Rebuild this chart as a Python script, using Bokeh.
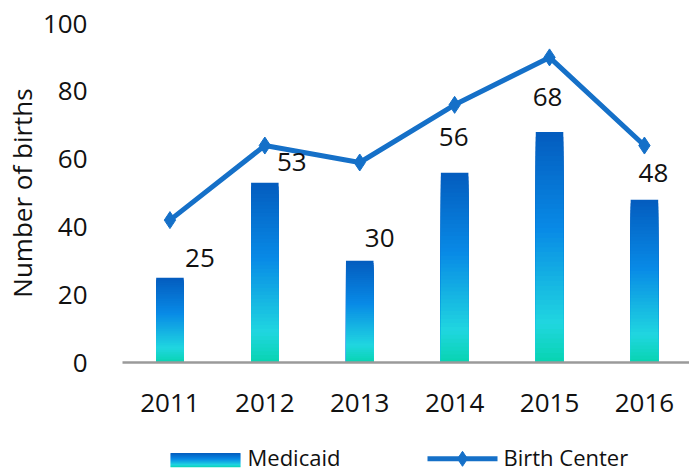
from bokeh.plotting import figure
from bokeh.models import Range1d, FixedTicker, ColumnDataSource
from bokeh.layouts import column
from bokeh.core.properties import value
from bokeh.embed import file_html
from bokeh.resources import INLINE

# ---- data ----
years = ["2011", "2012", "2013", "2014", "2015", "2016"]
medicaid = [25, 53, 30, 56, 68, 48]
birth_center = [42, 64, 59, 76, 90, 64]
y_ticks = [0, 20, 40, 60, 80, 100]

# ---- styles ----
FONT = "Open Sans"
LINE_COLOR = "#1570C8"
AXIS_GRAY = "#9A9A9A"
STOPS = [(0.0, (8, 212, 176)), (0.17, (32, 214, 224)), (0.58, (8, 138, 230)), (1.0, (4, 92, 190))]
label_dx = [30, 27, 20, -1, -2, 9]
label_dy = [-20, -21, -23, -36, -35, -27]


def grad(t):
    for (t0, c0), (t1, c1) in zip(STOPS[:-1], STOPS[1:]):
        if t <= t1:
            f = (t - t0) / (t1 - t0) if t1 > t0 else 0
            c = [round(a + (b - a) * f) for a, b in zip(c0, c1)]
            return "#%02x%02x%02x" % tuple(c)
    return "#%02x%02x%02x" % STOPS[-1][1]


W = 689
H_MAIN = 429
H_LEG = 43
FRAME_LEFT = 122
x = list(range(len(years)))

p = figure(width=W, height=H_MAIN, output_backend="svg", toolbar_location=None,
           x_range=Range1d(-0.5, 5.475), y_range=Range1d(0, 100),
           min_border_left=FRAME_LEFT, min_border_right=0, min_border_top=23, min_border_bottom=67)
p.outline_line_color = None
p.xgrid.visible = False
p.ygrid.visible = False

N = 48
xs, tops, cols = [], [], []
for k in range(N, 0, -1):
    for i, v in enumerate(medicaid):
        xs.append(x[i])
        tops.append(v * k / N)
        cols.append(grad((k - 0.5) / N))
p.vbar(x=xs, top=tops, bottom=0, width=0.29, fill_color=cols, line_color=None)

p.line(x, birth_center, line_color=LINE_COLOR, line_width=5)
p.scatter(x, birth_center, marker="diamond", size=17, fill_color=LINE_COLOR, line_color=LINE_COLOR)

src = ColumnDataSource(dict(x=x, y=medicaid, t=[str(v) for v in medicaid], dx=label_dx, dy=label_dy))
p.text(x="x", y="y", text="t", x_offset="dx", y_offset="dy", source=src,
       text_font=value(FONT), text_font_size="26px", text_color="#111111",
       text_align="center", text_baseline="middle")

p.xaxis.ticker = FixedTicker(ticks=x)
p.xaxis.major_label_overrides = {i: y for i, y in enumerate(years)}
p.xaxis.axis_line_color = AXIS_GRAY
p.xaxis.axis_line_width = 2.5
p.xaxis.major_tick_line_color = None
p.xaxis.minor_tick_line_color = None
p.xaxis.major_label_text_font = FONT
p.xaxis.major_label_text_font_size = "26px"
p.xaxis.major_label_text_color = "#111111"
p.xaxis.major_label_standoff = 25

p.yaxis.ticker = FixedTicker(ticks=y_ticks)
p.yaxis.axis_line_color = None
p.yaxis.major_tick_line_color = None
p.yaxis.minor_tick_line_color = None
p.yaxis.major_label_text_font = FONT
p.yaxis.major_label_text_font_size = "26px"
p.yaxis.major_label_text_color = "#111111"
p.yaxis.major_label_standoff = 29
p.yaxis.axis_label = "Number of births"
p.yaxis.axis_label_text_font = FONT
p.yaxis.axis_label_text_font_size = "26px"
p.yaxis.axis_label_text_font_style = "normal"
p.yaxis.axis_label_text_color = "#111111"
p.yaxis.axis_label_standoff = 0

# ---- legend figure (its frame is aligned with the main frame by the column layout) ----
lg = figure(width=W, height=H_LEG, output_backend="svg", toolbar_location=None,
            x_range=Range1d(FRAME_LEFT, W), y_range=Range1d(H_LEG, 0),
            min_border=0, min_border_left=FRAME_LEFT, min_border_right=0, min_border_top=0, min_border_bottom=0)
lg.axis.visible = False
lg.grid.visible = False
lg.outline_line_color = None

sw_l, sw_r, sw_t, sw_b = 170, 240, 23.7, 37.7
M = 14
for k in range(M):
    y0 = sw_b - (sw_b - sw_t) * k / M
    y1 = sw_b - (sw_b - sw_t) * (k + 1) / M - 0.3
    lg.quad(left=sw_l, right=sw_r, bottom=y0, top=y1, fill_color=grad((k + 0.5) / M), line_color=None)
lg.text(x=[247], y=[27.5], text=["Medicaid"], text_font=value(FONT), text_font_size="22px",
        text_color="#111111", text_align="left", text_baseline="middle")

lg.line([427, 497], [29.3, 29.3], line_color=LINE_COLOR, line_width=5)
lg.scatter([462], [29.3], marker="diamond", size=15, fill_color=LINE_COLOR, line_color=LINE_COLOR)
lg.text(x=[503], y=[27.5], text=["Birth Center"], text_font=value(FONT), text_font_size="22px",
        text_color="#111111", text_align="left", text_baseline="middle")

layout = column(p, lg, spacing=0)
open("out.html", "w").write(file_html(layout, INLINE))
